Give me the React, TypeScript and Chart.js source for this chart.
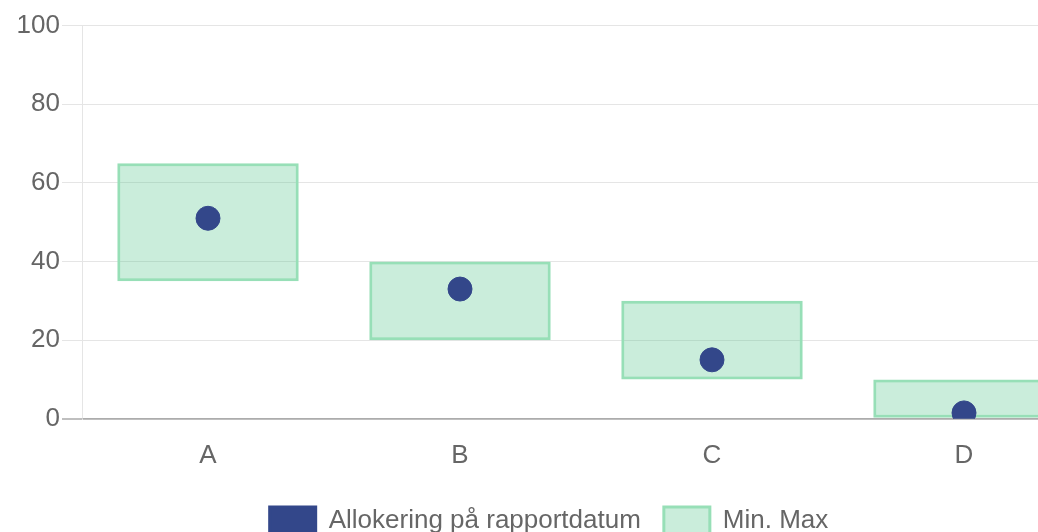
import React, { useEffect, useRef } from "react";
import { Chart, registerables } from "chart.js";

Chart.register(...registerables);

const categories = ["A", "B", "C", "D"];
const allocation = [51, 33, 15, 1.5];
const minValues = [35, 20, 10, 0];
const maxValues = [65, 40, 30, 10];
const yTicks = [0, 20, 40, 60, 80, 100];

const FONT = "'Liberation Sans', Arial, sans-serif";

export default function App() {
  const ref = useRef<HTMLCanvasElement | null>(null);

  useEffect(() => {
    if (!ref.current) return;
    const chart = new Chart(ref.current, {
      type: "bar",
      data: {
        labels: categories,
        datasets: [
          {
            type: "line",
            label: "Allokering på rapportdatum",
            data: allocation,
            showLine: false,
            backgroundColor: "#33478a",
            borderColor: "#33478a",
            pointRadius: 12,
            pointHoverRadius: 12,
            pointBorderWidth: 1,
            order: 0,
          } as any,
          {
            type: "bar",
            label: "Min. Max",
            data: minValues.map((m, i) => [m, maxValues[i]]),
            backgroundColor: "rgba(80,195,135,0.3)",
            borderColor: "#97dfb7",
            borderWidth: 3,
            borderSkipped: false,
            order: 1,
          } as any,
        ],
      },
      options: {
        responsive: false,
        animation: false,
        layout: { autoPadding: false, padding: { left: 0, right: 0, top: 12, bottom: 0 } },
        font: { family: FONT, size: 26 },
        plugins: {
          legend: {
            position: "bottom",
            labels: {
              color: "#666",
              boxWidth: 46,
              boxHeight: 28,
              padding: 23,
              font: { family: FONT, size: 26 },
            },
          },
          tooltip: { enabled: false },
        },
        scales: {
          x: {
            grid: { display: false, tickLength: 8 },
            border: { display: true, color: "rgba(0,0,0,0.1)" },
            ticks: {
              color: "#666",
              padding: 13,
              font: { family: FONT, size: 26 },
            },
          },
          y: {
            min: 0,
            max: 100,
            afterBuildTicks: (axis: any) => {
              axis.ticks = yTicks.map((v) => ({ value: v }));
            },
            afterFit: (axis: any) => {
              axis.width = 74;
            },
            grid: {
              color: (ctx: any) => (ctx.tick && ctx.tick.value === 0 ? "rgba(0,0,0,0.25)" : "rgba(0,0,0,0.1)"),
              lineWidth: (ctx: any) => (ctx.tick && ctx.tick.value === 0 ? 2 : 1),
              tickLength: 20,
            },
            border: { display: true, color: "rgba(0,0,0,0.1)" },
            ticks: {
              color: "#666",
              padding: 2,
              font: { family: FONT, size: 26 },
            },
          },
        },
      } as any,
    });
    return () => chart.destroy();
  }, []);

  return (
    <div style={{ position: "fixed", left: 0, top: 0, width: "100vw", height: "100vh", overflow: "hidden" }}>
      <canvas
        ref={ref}
        width={1082}
        height={537}
        style={{ position: "absolute", left: 8, top: 8, width: 1082, height: 537, display: "block" }}
      />
    </div>
  );
}
